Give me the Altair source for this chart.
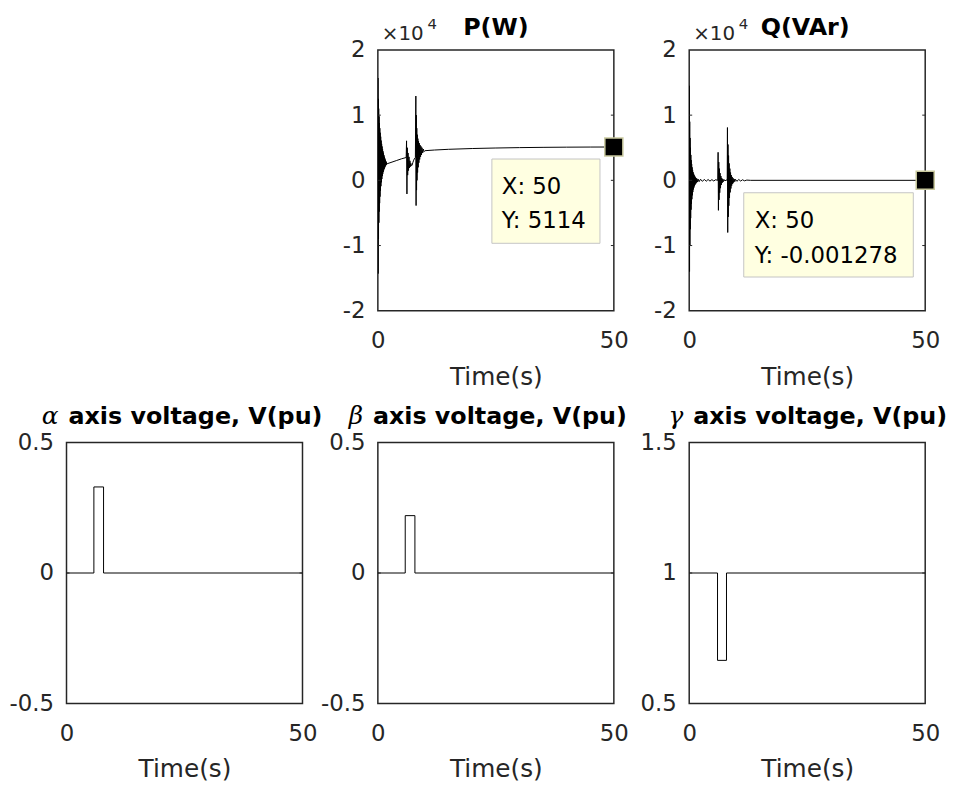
import altair as alt
import pandas as pd

# ---------------- data ----------------
P_T = [
    0.00, 0.02, 0.06, 0.10, 0.14, 0.18, 0.22, 0.26, 0.30, 0.34,
    0.38, 0.42, 0.46, 0.50, 0.55, 0.60, 0.65, 0.70, 0.75, 0.80,
    0.85, 0.90, 0.95, 1.00, 1.05, 1.10, 1.15, 1.20, 1.25, 1.30,
    1.35, 1.40, 1.45, 1.50, 1.55, 1.60, 1.65, 1.70, 1.75, 1.80,
    1.85, 1.90, 2.00, 3.00, 4.00, 5.00, 6.00, 6.08, 6.16, 6.24,
    6.32, 6.40, 6.50, 6.60, 6.70, 6.80, 6.90, 7.00, 7.10, 7.25,
    7.40, 7.60, 7.80, 7.95, 8.05, 8.10, 8.15, 8.20, 8.25, 8.30,
    8.36, 8.42, 8.48, 8.55, 8.62, 8.70, 8.78, 8.86, 8.95, 9.05,
    9.15, 9.25, 9.35, 9.50, 9.65, 9.80, 10.0, 12.0, 15.0, 20.0,
    25.0, 30.0, 35.0, 40.0, 45.0, 50.0]
P_V = [
    0, 15700, -14300, 12500, -9000, 11000, -6500, 9800, -4800, 8800,
    -3500, 8000, -2500, 7300, -1600, 6700, -900, 6100, -300, 5600,
    200, 5200, 650, 4800, 1000, 4450, 1300, 4150, 1550, 3850,
    1750, 3600, 1950, 3350, 2100, 3150, 2250, 2950, 2350, 2800,
    2450, 2650, 2550, 2800, 3050, 3300, 3500, 6060, -2090, 5000,
    800, 4200, 1500, 3600, 1900, 3000, 2100, 2600, 2250, 2300,
    2700, 3100, 3400, 3500, 12930, -3870, 10000, -1500, 8000, 0,
    7000, 1200, 6400, 2000, 6000, 2700, 5700, 3200, 5400, 3600,
    5200, 3900, 5000, 4200, 4800, 4400, 4550, 4650, 4760, 4880,
    4960, 5020, 5060, 5090, 5105, 5114]

Q_T = [
    0.00, 0.03, 0.07, 0.11, 0.15, 0.19, 0.23, 0.27, 0.31, 0.35,
    0.39, 0.43, 0.47, 0.52, 0.57, 0.62, 0.67, 0.72, 0.77, 0.83,
    0.89, 0.95, 1.01, 1.07, 1.13, 1.20, 1.27, 1.34, 1.41, 1.49,
    1.57, 1.65, 1.75, 1.90, 2.10, 2.40, 2.80, 3.20, 3.60, 4.00,
    4.40, 4.80, 5.20, 5.60, 6.05, 6.12, 6.19, 6.26, 6.33, 6.40,
    6.47, 6.55, 6.63, 6.72, 6.81, 6.90, 7.00, 7.12, 7.25, 7.40,
    7.60, 7.80, 8.05, 8.10, 8.16, 8.22, 8.28, 8.34, 8.40, 8.47,
    8.54, 8.61, 8.68, 8.76, 8.84, 8.92, 9.00, 9.10, 9.20, 9.30,
    9.40, 9.52, 9.65, 9.80, 10.1, 10.5, 10.9, 11.3, 11.7, 12.2,
    13.0, 50.0]
Q_V = [
    0, 14500, -14000, 9000, -10000, 6500, -7500, 5000, -5800, 3900,
    -4500, 3100, -3600, 2500, -2900, 2000, -2300, 1600, -1800, 1250,
    -1400, 1000, -1100, 780, -850, 600, -650, 450, -480, 330,
    -350, 240, -250, 180, -200, 170, -160, 150, -140, 130,
    -120, 110, -100, 90, 0, 4300, -4600, 2800, -3000, 1800,
    -1900, 1100, -1200, 650, -700, 350, -380, 200, -200, 120,
    -100, 60, 0, 8100, -8000, 5500, -5600, 3800, -3900, 2600,
    -2700, 1800, -1850, 1200, -1250, 800, -820, 520, -540, 330,
    -340, 210, -210, 160, -150, 130, -110, 90, -70, 40,
    0, -0.001278]

ALPHA_T = [0, 5.8, 5.8, 7.85, 7.85, 50]
ALPHA_V = [0, 0, 0.33, 0.33, 0, 0]
BETA_T = [0, 5.8, 5.8, 7.85, 7.85, 50]
BETA_V = [0, 0, 0.22, 0.22, 0, 0]
GAMMA_T = [0, 6.0, 6.0, 7.9, 7.9, 50]
GAMMA_V = [1, 1, 0.665, 0.665, 1, 1]

P_TIP = [50, 5114]
Q_TIP = [50, -0.001278]
P_TIP_TEXT = ["X: 50", "Y: 5114"]
Q_TIP_TEXT = ["X: 50", "Y: -0.001278"]

TITLES = ["P(W)", "Q(VAr)", "axis voltage, V(pu)"]
GREEK = ["α", "β", "γ"]

X_TICKS = [0, 50]
PQ_TICKS = [-20000, -10000, 0, 10000, 20000]
AB_TICKS = [-0.5, 0, 0.5]
G_TICKS = [0.5, 1, 1.5]

# ---------------- styling ----------------
W, H = 238, 263
FONT = "DejaVu Sans"
AX = "#262626"
ONE = pd.DataFrame({"a": [0]})


def xenc():
    return alt.X(
        "t:Q",
        scale=alt.Scale(domain=[0, 50], nice=False, zero=False),
        axis=alt.Axis(values=X_TICKS, title="Time(s)", labelFlush=False,
                      labelPadding=19, titlePadding=12, labelOverlap=False),
    )


def yenc(domain, ticks, scale_label):
    expr = "(datum.value/10000) + ''" if scale_label else "datum.value + ''"
    return alt.Y(
        "v:Q",
        scale=alt.Scale(domain=domain, nice=False, zero=False),
        axis=alt.Axis(values=ticks, title=None, labelExpr=expr, labelPadding=13,
                      labelOverlap=False, orient="left"),
    )


def text_layer(s, x, y, size, align="left", weight="normal", font=FONT, style="normal",
               color=AX):
    return alt.Chart(pd.DataFrame({"s": [s]})).mark_text(
        align=align, baseline="alphabetic", font=font, fontSize=size,
        fontWeight=weight, fontStyle=style, color=color,
    ).encode(x=alt.value(x), y=alt.value(y), text="s:N")


def panel(t, v, domain, ticks, scale_label, title_layers, tip=None, tip_text=None,
          tip_box=None, tip_text_pos=None):
    df = pd.DataFrame({"t": t, "v": v, "i": list(range(len(t)))})
    y = yenc(domain, ticks, scale_label)
    line = alt.Chart(df).mark_line(color="black", strokeWidth=1, clip=True).encode(
        x=xenc(), y=y, order=alt.Order("i:Q")
    )
    inner = [tv for tv in ticks if domain[0] < tv < domain[1]]
    tdf = pd.DataFrame({"v": inner})
    lt = alt.Chart(tdf).mark_rule(color=AX, strokeWidth=1).encode(
        y=y, x=alt.value(0), x2=alt.value(3))
    rt = alt.Chart(tdf).mark_rule(color=AX, strokeWidth=1).encode(
        y=y, x=alt.value(W - 3), x2=alt.value(W))
    layers = [line, lt, rt] + title_layers
    if scale_label:
        layers.append(text_layer("×10", 4, -10, 20))
        layers.append(text_layer("4", 50, -21, 15))
    if tip is not None:
        mdf = pd.DataFrame({"t": [tip[0]], "v": [tip[1]]})
        layers.append(alt.Chart(mdf).mark_point(
            shape="square", filled=True, fill="black", stroke="#C9C99E", strokeWidth=1.5,
            size=330, opacity=1, clip=False).encode(x=xenc(), y=y))
        bx0, bx1, by0, by1 = tip_box
        layers.append(alt.Chart(ONE).mark_rect(
            fill="#FFFFE1", stroke="#C4C4C4", strokeWidth=1).encode(
            x=alt.value(bx0), x2=alt.value(bx1), y=alt.value(by0), y2=alt.value(by1)))
        tx, ty0, ty1 = tip_text_pos
        for s, yy in zip(tip_text, [ty0, ty1]):
            layers.append(text_layer(s, tx, yy, 23, color="black"))
    return alt.layer(*layers).properties(width=W, height=H)


def top_title(s, cx):
    return [text_layer(s, cx, -15, 24, align="center", weight="bold", color="black")]


def greek_title(g, start):
    return [
        text_layer(g, start - 10, -19, 25, align="right", font="DejaVu Serif",
                   style="italic", color="black"),
        text_layer(TITLES[2], start, -19, 24, align="left", weight="bold", color="black"),
    ]


empty = alt.Chart(ONE).mark_point(opacity=0).encode(
    x=alt.X("a:Q", axis=None), y=alt.Y("a:Q", axis=None)
).properties(width=W, height=H, view=alt.ViewBackground(strokeOpacity=0))

p_panel = panel(P_T, P_V, [-20000, 20000], PQ_TICKS, True, top_title(TITLES[0], 119),
                tip=P_TIP, tip_text=P_TIP_TEXT, tip_box=(115, 224, 110, 195),
                tip_text_pos=(125, 145, 180))
q_panel = panel(Q_T, Q_V, [-20000, 20000], PQ_TICKS, True, top_title(TITLES[1], 117),
                tip=Q_TIP, tip_text=Q_TIP_TEXT, tip_box=(55, 226, 144, 229),
                tip_text_pos=(66, 180, 215))
a_panel = panel(ALPHA_T, ALPHA_V, [-0.5, 0.5], AB_TICKS, False, greek_title(GREEK[0], 2))
b_panel = panel(BETA_T, BETA_V, [-0.5, 0.5], AB_TICKS, False, greek_title(GREEK[1], -5))
g_panel = panel(GAMMA_T, GAMMA_V, [0.5, 1.5], G_TICKS, False, greek_title(GREEK[2], 4))

chart = alt.concat(
    empty, p_panel, q_panel, a_panel, b_panel, g_panel,
    columns=3, spacing={"row": 133, "column": 76}, bounds="flush", align="all",
).properties(
    padding={"left": 0, "top": 4, "right": 0, "bottom": 0},
    background="white",
).configure_view(
    stroke=AX, strokeWidth=1.5
).configure_axis(
    labelFont=FONT, labelFontSize=23, labelColor=AX,
    titleFont=FONT, titleFontSize=25, titleFontWeight="normal", titleColor=AX,
    domain=False, ticks=False, grid=False,
)

chart.save("out.html", embed_options={"renderer": "svg", "actions": False})
